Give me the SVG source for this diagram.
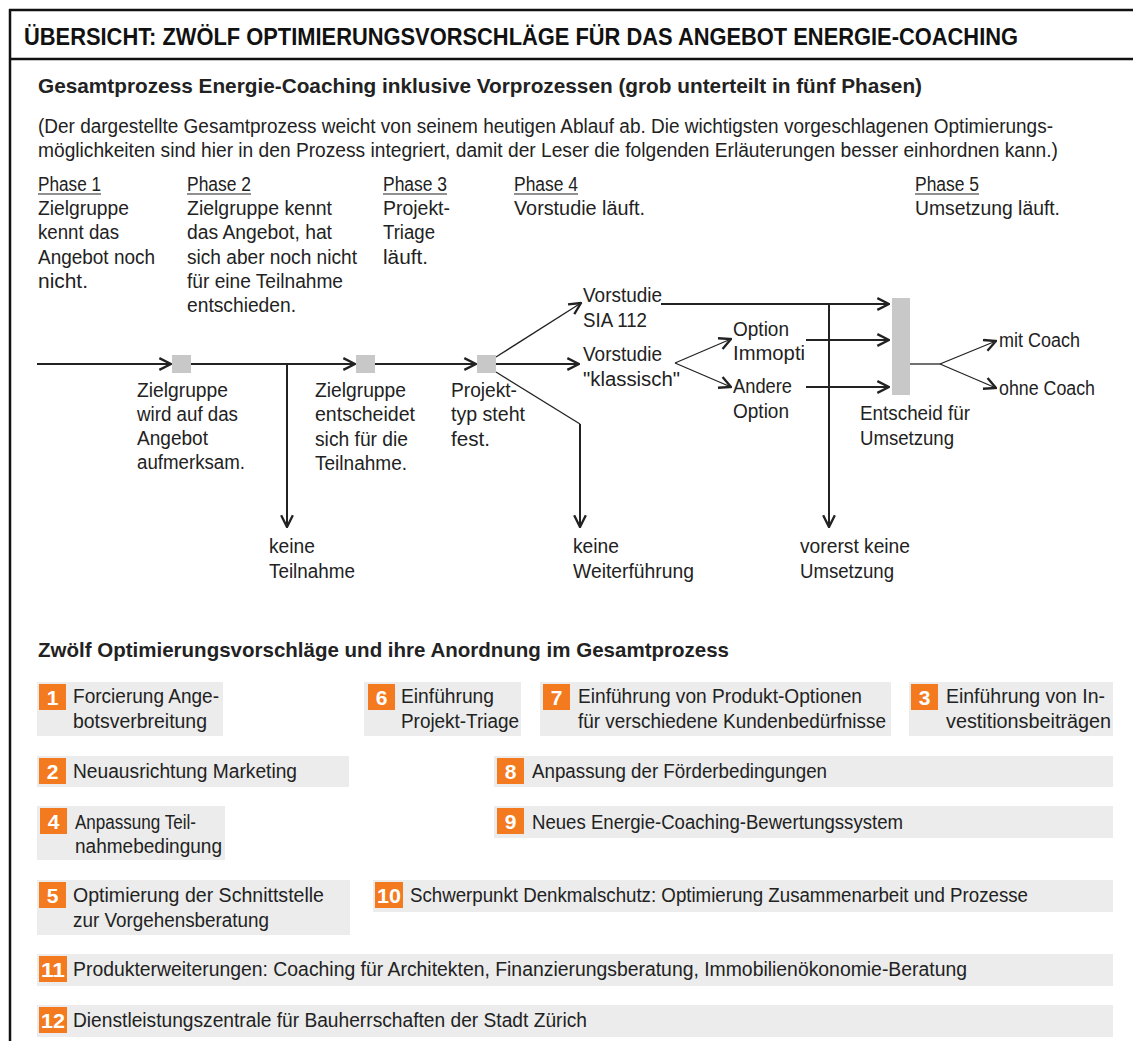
<svg xmlns="http://www.w3.org/2000/svg" width="1133" height="1041" viewBox="0 0 1133 1041">
<style>
.t{font-family:"Liberation Sans",Arial,sans-serif;font-size:20px;fill:#222}
.b{font-weight:bold}
.h1{font-size:24px;fill:#111}
.h2{font-size:21px}
.ln{stroke:#222;stroke-width:2;fill:none}
.thin{stroke:#222;stroke-width:1.3;fill:none}
.ul{stroke:#222;stroke-width:1.2}
.sq{fill:#c8c8c8}
.box{fill:#ebeceb}
.num{fill:#f47a20}
.nt{font-family:"Liberation Sans",Arial,sans-serif;font-weight:bold;font-size:21px;fill:#fff;text-anchor:middle}
.frame{stroke:#111;stroke-width:2.5;fill:none}
</style>
<defs>
<marker id="ah" markerUnits="userSpaceOnUse" markerWidth="14" markerHeight="14" viewBox="0 0 12 12" refX="11" refY="6" orient="auto">
<path d="M1,1 L11,6 L1,11" fill="none" stroke="#222" stroke-width="2"/>
</marker>
</defs>
<rect x="0" y="0" width="1133" height="1041" fill="#fff"/>
<g id="frame">
<line class="frame" x1="10" y1="9" x2="10" y2="1041"/>
<line class="frame" x1="9" y1="10" x2="1133" y2="10"/>
<line class="frame" x1="10" y1="59" x2="1133" y2="59"/>
<text class="t b h1" x="24" y="45" textLength="994" lengthAdjust="spacingAndGlyphs">ÜBERSICHT: ZWÖLF OPTIMIERUNGSVORSCHLÄGE FÜR DAS ANGEBOT ENERGIE-COACHING</text>
</g>
<g id="intro">
<text class="t b h2" x="38" y="93" textLength="884" lengthAdjust="spacingAndGlyphs">Gesamtprozess Energie-Coaching inklusive Vorprozessen (grob unterteilt in fünf Phasen)</text>
<text class="t" x="38" y="133" textLength="1015" lengthAdjust="spacingAndGlyphs">(Der dargestellte Gesamtprozess weicht von seinem heutigen Ablauf ab. Die wichtigsten vorgeschlagenen Optimierungs-</text>
<text class="t" x="38" y="157" textLength="1020" lengthAdjust="spacingAndGlyphs">möglichkeiten sind hier in den Prozess integriert, damit der Leser die folgenden Erläuterungen besser einhordnen kann.)</text>
</g>
<g id="phase1">
<text class="t" x="38" y="191" textLength="63" lengthAdjust="spacingAndGlyphs">Phase 1</text>
<line class="ul" x1="38" y1="194" x2="101" y2="194"/>
<text class="t" x="38" y="215" textLength="91" lengthAdjust="spacingAndGlyphs">Zielgruppe</text>
<text class="t" x="38" y="239" textLength="81" lengthAdjust="spacingAndGlyphs">kennt das</text>
<text class="t" x="38" y="264" textLength="117" lengthAdjust="spacingAndGlyphs">Angebot noch</text>
<text class="t" x="38" y="288" textLength="50" lengthAdjust="spacingAndGlyphs">nicht.</text>
</g>
<g id="phase2">
<text class="t" x="187" y="191" textLength="64" lengthAdjust="spacingAndGlyphs">Phase 2</text>
<line class="ul" x1="187" y1="194" x2="251" y2="194"/>
<text class="t" x="187" y="215" textLength="145" lengthAdjust="spacingAndGlyphs">Zielgruppe kennt</text>
<text class="t" x="187" y="239" textLength="145" lengthAdjust="spacingAndGlyphs">das Angebot, hat</text>
<text class="t" x="187" y="264" textLength="170" lengthAdjust="spacingAndGlyphs">sich aber noch nicht</text>
<text class="t" x="187" y="288" textLength="156" lengthAdjust="spacingAndGlyphs">für eine Teilnahme</text>
<text class="t" x="187" y="312" textLength="109" lengthAdjust="spacingAndGlyphs">entschieden.</text>
</g>
<g id="phase3">
<text class="t" x="383" y="191" textLength="64" lengthAdjust="spacingAndGlyphs">Phase 3</text>
<line class="ul" x1="383" y1="194" x2="447" y2="194"/>
<text class="t" x="383" y="215" textLength="67" lengthAdjust="spacingAndGlyphs">Projekt-</text>
<text class="t" x="383" y="239" textLength="52" lengthAdjust="spacingAndGlyphs">Triage</text>
<text class="t" x="383" y="264" textLength="45" lengthAdjust="spacingAndGlyphs">läuft.</text>
</g>
<g id="phase4">
<text class="t" x="514" y="191" textLength="64" lengthAdjust="spacingAndGlyphs">Phase 4</text>
<line class="ul" x1="514" y1="194" x2="578" y2="194"/>
<text class="t" x="514" y="215" textLength="131" lengthAdjust="spacingAndGlyphs">Vorstudie läuft.</text>
</g>
<g id="phase5">
<text class="t" x="915" y="191" textLength="64" lengthAdjust="spacingAndGlyphs">Phase 5</text>
<line class="ul" x1="915" y1="194" x2="979" y2="194"/>
<text class="t" x="915" y="215" textLength="145" lengthAdjust="spacingAndGlyphs">Umsetzung läuft.</text>
</g>
<g id="connectors">
<path class="ln" d="M37,364 H171" marker-end="url(#ah)"/>
<path class="ln" d="M191,364 H355" marker-end="url(#ah)"/>
<path class="ln" d="M375,364 H476" marker-end="url(#ah)"/>
<path class="ln" d="M287,364 V527" marker-end="url(#ah)"/>
<path class="thin" d="M496,357 L581,303" marker-end="url(#ah)"/>
<path class="ln" d="M496,364 H579" marker-end="url(#ah)"/>
<path class="thin" d="M496,372 L580,424"/>
<path class="ln" d="M580,424 V527" marker-end="url(#ah)"/>
<path class="ln" d="M661,304 H889" marker-end="url(#ah)"/>
<path class="ln" d="M829,304 V527" marker-end="url(#ah)"/>
<path class="ln" d="M806,340 H889" marker-end="url(#ah)"/>
<path class="ln" d="M806,387 H889" marker-end="url(#ah)"/>
<path class="thin" d="M675,363 L731,339" marker-end="url(#ah)"/>
<path class="thin" d="M675,363 L731,387" marker-end="url(#ah)"/>
<path class="thin" d="M910,364 H940"/>
<path class="thin" d="M940,364 L996,341" marker-end="url(#ah)"/>
<path class="thin" d="M940,364 L996,388" marker-end="url(#ah)"/>
</g>
<g id="n-aufmerksam">
<rect class="sq" x="172" y="355" width="19" height="18"/>
<text class="t" x="137" y="397" textLength="91" lengthAdjust="spacingAndGlyphs">Zielgruppe</text>
<text class="t" x="137" y="421" textLength="101" lengthAdjust="spacingAndGlyphs">wird auf das</text>
<text class="t" x="137" y="445" textLength="71" lengthAdjust="spacingAndGlyphs">Angebot</text>
<text class="t" x="137" y="469" textLength="108" lengthAdjust="spacingAndGlyphs">aufmerksam.</text>
</g>
<g id="n-entscheidet">
<rect class="sq" x="356" y="355" width="19" height="18"/>
<text class="t" x="315" y="397" textLength="91" lengthAdjust="spacingAndGlyphs">Zielgruppe</text>
<text class="t" x="315" y="421" textLength="100" lengthAdjust="spacingAndGlyphs">entscheidet</text>
<text class="t" x="315" y="446" textLength="93" lengthAdjust="spacingAndGlyphs">sich für die</text>
<text class="t" x="315" y="470" textLength="92" lengthAdjust="spacingAndGlyphs">Teilnahme.</text>
</g>
<g id="n-projekttyp">
<rect class="sq" x="477" y="355" width="19" height="18"/>
<text class="t" x="451" y="397" textLength="66" lengthAdjust="spacingAndGlyphs">Projekt-</text>
<text class="t" x="451" y="421" textLength="74" lengthAdjust="spacingAndGlyphs">typ steht</text>
<text class="t" x="451" y="446" textLength="39" lengthAdjust="spacingAndGlyphs">fest.</text>
</g>
<g id="n-sia">
<text class="t" x="583" y="302" textLength="79" lengthAdjust="spacingAndGlyphs">Vorstudie</text>
<text class="t" x="583" y="327" textLength="64" lengthAdjust="spacingAndGlyphs">SIA 112</text>
</g>
<g id="n-klassisch">
<text class="t" x="583" y="361" textLength="79" lengthAdjust="spacingAndGlyphs">Vorstudie</text>
<text class="t" x="583" y="386" textLength="97" lengthAdjust="spacingAndGlyphs">"klassisch"</text>
</g>
<g id="n-immopti">
<text class="t" x="733" y="336" textLength="56" lengthAdjust="spacingAndGlyphs">Option</text>
<text class="t" x="733" y="360" textLength="72" lengthAdjust="spacingAndGlyphs">Immopti</text>
</g>
<g id="n-andere">
<text class="t" x="733" y="393" textLength="59" lengthAdjust="spacingAndGlyphs">Andere</text>
<text class="t" x="733" y="418" textLength="56" lengthAdjust="spacingAndGlyphs">Option</text>
</g>
<g id="n-entscheid">
<rect class="sq" x="892" y="298" width="18" height="97"/>
<text class="t" x="860" y="420" textLength="110" lengthAdjust="spacingAndGlyphs">Entscheid für</text>
<text class="t" x="860" y="445" textLength="94" lengthAdjust="spacingAndGlyphs">Umsetzung</text>
</g>
<g id="n-mitcoach">
<text class="t" x="999" y="347" textLength="81" lengthAdjust="spacingAndGlyphs">mit Coach</text>
</g>
<g id="n-ohnecoach">
<text class="t" x="999" y="395" textLength="96" lengthAdjust="spacingAndGlyphs">ohne Coach</text>
</g>
<g id="n-keineteilnahme">
<text class="t" x="269" y="553" textLength="46" lengthAdjust="spacingAndGlyphs">keine</text>
<text class="t" x="269" y="578" textLength="86" lengthAdjust="spacingAndGlyphs">Teilnahme</text>
</g>
<g id="n-keineweiter">
<text class="t" x="573" y="553" textLength="46" lengthAdjust="spacingAndGlyphs">keine</text>
<text class="t" x="573" y="578" textLength="121" lengthAdjust="spacingAndGlyphs">Weiterführung</text>
</g>
<g id="n-vorerst">
<text class="t" x="800" y="553" textLength="110" lengthAdjust="spacingAndGlyphs">vorerst keine</text>
<text class="t" x="800" y="578" textLength="94" lengthAdjust="spacingAndGlyphs">Umsetzung</text>
</g>
<g id="section2">
<text class="t b h2" x="38" y="657" textLength="691" lengthAdjust="spacingAndGlyphs">Zwölf Optimierungsvorschläge und ihre Anordnung im Gesamtprozess</text>
</g>
<g id="v1">
<rect class="box" x="37" y="682" width="186" height="54"/>
<rect class="num" x="39" y="684" width="27" height="26"/>
<text class="nt" x="52.5" y="705">1</text>
<text class="t" x="73" y="703" textLength="146" lengthAdjust="spacingAndGlyphs">Forcierung Ange-</text>
<text class="t" x="73" y="728" textLength="134" lengthAdjust="spacingAndGlyphs">botsverbreitung</text>
</g>
<g id="v6">
<rect class="box" x="364" y="682" width="157" height="54"/>
<rect class="num" x="368" y="684" width="27" height="26"/>
<text class="nt" x="381.5" y="705">6</text>
<text class="t" x="401" y="703" textLength="93" lengthAdjust="spacingAndGlyphs">Einführung</text>
<text class="t" x="401" y="728" textLength="118" lengthAdjust="spacingAndGlyphs">Projekt-Triage</text>
</g>
<g id="v7">
<rect class="box" x="540" y="682" width="351" height="54"/>
<rect class="num" x="543" y="684" width="27" height="26"/>
<text class="nt" x="556.5" y="705">7</text>
<text class="t" x="578" y="703" textLength="284" lengthAdjust="spacingAndGlyphs">Einführung von Produkt-Optionen</text>
<text class="t" x="578" y="728" textLength="308" lengthAdjust="spacingAndGlyphs">für verschiedene Kundenbedürfnisse</text>
</g>
<g id="v3">
<rect class="box" x="909" y="682" width="204" height="54"/>
<rect class="num" x="911" y="684" width="27" height="26"/>
<text class="nt" x="924.5" y="705">3</text>
<text class="t" x="946" y="703" textLength="159" lengthAdjust="spacingAndGlyphs">Einführung von In-</text>
<text class="t" x="946" y="728" textLength="165" lengthAdjust="spacingAndGlyphs">vestitionsbeiträgen</text>
</g>
<g id="v2">
<rect class="box" x="37" y="756" width="312" height="31"/>
<rect class="num" x="39" y="758" width="27" height="26"/>
<text class="nt" x="52.5" y="779">2</text>
<text class="t" x="73" y="778" textLength="224" lengthAdjust="spacingAndGlyphs">Neuausrichtung Marketing</text>
</g>
<g id="v8">
<rect class="box" x="494" y="756" width="619" height="31"/>
<rect class="num" x="497" y="758" width="27" height="26"/>
<text class="nt" x="510.5" y="779">8</text>
<text class="t" x="532" y="778" textLength="295" lengthAdjust="spacingAndGlyphs">Anpassung der Förderbedingungen</text>
</g>
<g id="v4">
<rect class="box" x="37" y="806" width="188" height="54"/>
<rect class="num" x="40" y="808" width="27" height="26"/>
<text class="nt" x="53.5" y="829">4</text>
<text class="t" x="75" y="829" textLength="121" lengthAdjust="spacingAndGlyphs">Anpassung Teil-</text>
<text class="t" x="75" y="853" textLength="147" lengthAdjust="spacingAndGlyphs">nahmebedingung</text>
</g>
<g id="v9">
<rect class="box" x="494" y="806" width="619" height="32"/>
<rect class="num" x="497" y="808" width="27" height="26"/>
<text class="nt" x="510.5" y="829">9</text>
<text class="t" x="532" y="829" textLength="371" lengthAdjust="spacingAndGlyphs">Neues Energie-Coaching-Bewertungssystem</text>
</g>
<g id="v5">
<rect class="box" x="37" y="880" width="313" height="55"/>
<rect class="num" x="39" y="882" width="27" height="26"/>
<text class="nt" x="52.5" y="903">5</text>
<text class="t" x="73" y="902" textLength="251" lengthAdjust="spacingAndGlyphs">Optimierung der Schnittstelle</text>
<text class="t" x="73" y="927" textLength="196" lengthAdjust="spacingAndGlyphs">zur Vorgehensberatung</text>
</g>
<g id="v10">
<rect class="box" x="373" y="880" width="740" height="32"/>
<rect class="num" x="375" y="882" width="28" height="26"/>
<text class="nt" x="389" y="903" textLength="24" lengthAdjust="spacingAndGlyphs">10</text>
<text class="t" x="410" y="902" textLength="618" lengthAdjust="spacingAndGlyphs">Schwerpunkt Denkmalschutz: Optimierung Zusammenarbeit und Prozesse</text>
</g>
<g id="v11">
<rect class="box" x="37" y="954" width="1076" height="32"/>
<rect class="num" x="39" y="956" width="28" height="26"/>
<text class="nt" x="53" y="977" textLength="24" lengthAdjust="spacingAndGlyphs">11</text>
<text class="t" x="73" y="976" textLength="894" lengthAdjust="spacingAndGlyphs">Produkterweiterungen: Coaching für Architekten, Finanzierungsberatung, Immobilienökonomie-Beratung</text>
</g>
<g id="v12">
<rect class="box" x="37" y="1005" width="1076" height="32"/>
<rect class="num" x="39" y="1007" width="28" height="26"/>
<text class="nt" x="53" y="1028" textLength="24" lengthAdjust="spacingAndGlyphs">12</text>
<text class="t" x="73" y="1027" textLength="514" lengthAdjust="spacingAndGlyphs">Dienstleistungszentrale für Bauherrschaften der Stadt Zürich</text>
</g>
</svg>
